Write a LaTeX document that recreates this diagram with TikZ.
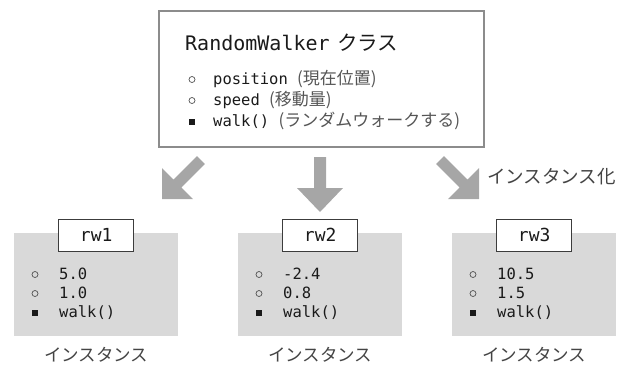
\documentclass[tikz,border=0pt]{standalone}
\usepackage{fontspec}
\usetikzlibrary{calc}
\newfontfamily\jp{Noto Sans CJK JP}
\newfontfamily\mono{DejaVu Sans Mono}
\definecolor{arrowgray}{HTML}{A6A6A6}
\definecolor{boxborder}{HTML}{8C8C8C}
\definecolor{instfill}{HTML}{D9D9D9}
\definecolor{jpgray}{HTML}{555555}
\definecolor{ink}{HTML}{1A1A1A}
\definecolor{labelgray}{HTML}{444444}
\tikzset{
  txt/.style={anchor=base west, inner sep=0pt, text=ink},
  bigarrow/.style={fill=arrowgray, draw=none},
  openbullet/.style={draw=ink!75, line width=0.7pt, fill=none},
  fullbullet/.style={fill=ink, draw=none},
  instbox/.style={fill=instfill, draw=none, minimum width=164pt, minimum height=103pt, anchor=north west, inner sep=0pt},
  namebox/.style={draw=ink!85, fill=white, line width=0.8pt, minimum width=75pt, minimum height=32pt, inner sep=0pt, font=\mono\fontsize{18}{20}\selectfont, text=ink},
  instlabel/.style={inner sep=0pt, font=\jp\fontsize{17.5}{20}\selectfont, text=labelgray}
}
\begin{document}
\begin{tikzpicture}[x=1pt,y=-1pt]
\useasboundingbox (0,0) rectangle (627,365);
% class box
\node[draw=boxborder, line width=1.5pt, minimum width=325pt, minimum height=136pt, anchor=north west, inner sep=0pt] (cls) at (158,10) {};
\node[txt, font=\mono\fontsize{20}{24}\selectfont] (title) at (185,50) {RandomWalker};
\node[txt, font=\jp\fontsize{20.5}{24}\selectfont] (titlejp) at ([xshift=7pt]title.base east) {クラス};
\node[txt, font=\mono\fontsize{15.5}{18}\selectfont] (p1) at (213,84) {position {\jp\fontsize{17}{20}\selectfont\color{jpgray}(現在位置)}};
\node[txt, font=\mono\fontsize{15.5}{18}\selectfont] (p2) at (213,105) {speed {\jp\fontsize{17}{20}\selectfont\color{jpgray}(移動量)}};
\node[txt, font=\mono\fontsize{15.5}{18}\selectfont] (p3) at (213,126) {walk() {\jp\fontsize{17}{20}\selectfont\color{jpgray}(ランダムウォークする)}};
\draw[openbullet] (192,79.5) circle[radius=3pt];
\draw[openbullet] (192,100.5) circle[radius=3pt];
\fill[fullbullet] (189,118.5) rectangle (195,124.5);
% arrows
\fill[bigarrow] (162,199) -- (162,168) -- (173.6,179.6) -- (197.1,156.1) -- (204.9,163.9) -- (181.4,187.4) -- (193,199) -- cycle;
\fill[bigarrow] (320,212) -- (297,188) -- (314,188) -- (314,157) -- (326,157) -- (326,188) -- (343,188) -- cycle;
\fill[bigarrow] (479,199) -- (479,168) -- (467.4,179.6) -- (443.9,156.1) -- (436.1,163.9) -- (459.6,187.4) -- (448,199) -- cycle;
\node[anchor=west, inner sep=0pt, font=\jp\fontsize{18.5}{20}\selectfont, text=labelgray] (inst) at (487,177) {インスタンス化};
% instances
\foreach \i/\L/\a/\b in {1/14/5.0/1.0, 2/238/-2.4/0.8, 3/452/10.5/1.5} {
  \node[instbox] (b\i) at (\L,233) {};
  \node[namebox] (n\i) at ($(b\i.north)+(0,2)$) {rw\i};
  \node[txt, font=\mono\fontsize{15.5}{18}\selectfont] (v\i a) at (\L+45,279) {\a};
  \node[txt, font=\mono\fontsize{15.5}{18}\selectfont] (v\i b) at (\L+45,298) {\b};
  \node[txt, font=\mono\fontsize{15.5}{18}\selectfont] (v\i c) at (\L+45,317) {walk()};
  \draw[openbullet] (\L+21,274.5) circle[radius=3pt];
  \draw[openbullet] (\L+21,293.5) circle[radius=3pt];
  \fill[fullbullet] (\L+18,309.5) rectangle (\L+24,315.5);
  \node[instlabel] (il\i) at ($(b\i.south)+(0,18)$) {インスタンス};
}
\end{tikzpicture}
\end{document}
